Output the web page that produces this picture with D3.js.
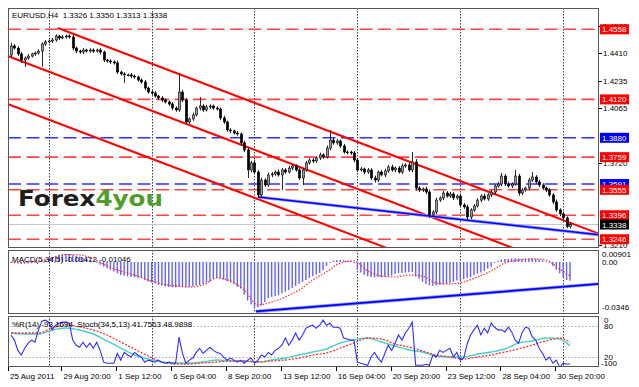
<!DOCTYPE html>
<html><head><meta charset="utf-8">
<script src="https://cdn.jsdelivr.net/npm/d3@7"></script>
<style>
body{margin:0;background:#fff}
svg{display:block}
text{font-family:"Liberation Sans",Arial,sans-serif;white-space:pre}
</style>
</head><body>
<svg id="c" width="639" height="387"></svg>
<script>
// ---------------- DATA ----------------
const symbolTitle = "EURUSD,H4";
const lastOHLC = [1.3326, 1.3350, 1.3313, 1.3338];
const firstOpen = 1.4398;
const closes = [
1.4454,1.4441,1.4404,1.4366,1.4379,1.4391,1.4404,1.4410,1.4422,1.4466,
1.4479,1.4485,1.4491,1.4516,1.4504,1.4510,1.4516,1.4510,1.4441,1.4422,
1.4416,1.4429,1.4422,1.4429,1.4422,1.4429,1.4416,1.4366,1.4360,1.4354,
1.4348,1.4291,1.4279,1.4273,1.4273,1.4266,1.4260,1.4241,1.4229,1.4191,
1.4166,1.4160,1.4141,1.4129,1.4116,1.4104,1.4091,1.4066,1.4054,1.4166,
1.4116,1.3979,1.3998,1.4023,1.4066,1.4079,1.4054,1.4073,1.4079,1.4066,
1.4060,1.4004,1.3979,1.3929,1.3923,1.3910,1.3904,1.3848,1.3804,1.3679,
1.3723,1.3666,1.3523,1.3616,1.3585,1.3648,1.3654,1.3666,1.3648,1.3679,
1.3666,1.3691,1.3704,1.3679,1.3629,1.3679,1.3723,1.3741,1.3735,1.3754,
1.3773,1.3760,1.3816,1.3866,1.3848,1.3860,1.3829,1.3791,1.3791,1.3785,
1.3741,1.3679,1.3685,1.3666,1.3679,1.3629,1.3616,1.3666,1.3648,1.3673,
1.3698,1.3679,1.3691,1.3666,1.3704,1.3710,1.3679,1.3729,1.3566,1.3554,
1.3560,1.3541,1.3398,1.3416,1.3491,1.3504,1.3535,1.3516,1.3529,1.3504,
1.3516,1.3460,1.3448,1.3385,1.3429,1.3454,1.3491,1.3516,1.3498,1.3523,
1.3541,1.3579,1.3591,1.3641,1.3591,1.3579,1.3591,1.3641,1.3535,1.3554,
1.3566,1.3616,1.3635,1.3604,1.3585,1.3566,1.3554,1.3523,1.3479,1.3429,
1.3404,1.3379,1.3326,1.3338];
// upper / lower shadow lengths in pips
const upWick = [
20,12,10,14,9,12,8,10,11,10, 12,9,13,10,8,11,9,12,14,10,
9,12,8,11,10,9,13,10,8,12, 10,14,9,11,8,12,10,9,11,13,
9,10,12,8,11,10,9,12,10,119, 14,12,10,15,9,56,11,13,10,9,
12,10,14,9,11,8,12,10,14,16, 13,18,12,15,11,14,12,10,16,13,
12,14,10,12,15,11,13,10,12,9, 14,10,16,63,12,14,10,13,11,9,
12,10,14,9,13,11,15,10,12,14, 11,13,9,12,15,10,14,62,18,12,
10,14,16,12,15,10,13,11,14,12, 10,15,12,14,11,13,10,12,15,11,
13,10,14,19,12,15,11,38,14,12, 10,13,31,12,14,11,10,13,12,15,
11,14,10,12];
const downWick = [
14,10,12,20,43,11,9,12,10,99, 11,9,12,10,13,8,11,10,14,12,
10,13,9,11,12,10,14,12,10,13, 11,12,10,50,9,13,11,10,12,14,
10,12,9,11,13,10,12,14,11,12, 13,15,11,12,10,14,12,9,13,11,
10,14,12,11,13,10,12,15,14,50, 16,12,19,15,13,11,14,12,10,94,
12,10,14,11,13,44,12,10,14,11, 13,12,10,14,11,12,13,10,14,12,
15,12,10,14,11,13,16,12,10,14, 12,11,14,10,13,12,11,14,16,13,
12,14,19,13,12,11,14,10,12,13, 11,14,12,19,13,12,10,14,11,12,
13,12,10,14,12,11,13,10,16,12, 11,14,12,10,13,12,14,11,13,12,
14,12,11,13];

const macdHist = [
-0.0008,-0.0010,-0.0012,-0.0015,-0.0014,-0.0012,-0.0010,-0.0008,-0.0004,0.0005,
0.0015,0.0025,0.0035,0.0046,0.0054,0.0060,0.0062,0.0060,0.0052,0.0045,
0.0040,0.0032,0.0024,0.0015,0.0006,-0.0006,-0.0020,-0.0035,-0.0048,-0.0060,
-0.0072,-0.0085,-0.0098,-0.0104,-0.0108,-0.0113,-0.0116,-0.0118,-0.0120,-0.0135,
-0.0148,-0.0155,-0.0162,-0.0172,-0.0177,-0.0182,-0.0188,-0.0190,-0.0190,-0.0186,
-0.0188,-0.0190,-0.0188,-0.0182,-0.0176,-0.0172,-0.0165,-0.0155,-0.0148,-0.0125,
-0.0120,-0.0122,-0.0132,-0.0145,-0.0155,-0.0168,-0.0185,-0.0200,-0.0245,-0.0290,
-0.0320,-0.0346,-0.0340,-0.0325,-0.0300,-0.0272,-0.0262,-0.0255,-0.0248,-0.0236,
-0.0224,-0.0210,-0.0196,-0.0180,-0.0165,-0.0150,-0.0135,-0.0120,-0.0107,-0.0095,
-0.0083,-0.0062,-0.0030,-0.0008,0.0010,0.0015,0.0016,0.0014,0.0012,0.0008,
-0.0010,-0.0055,-0.0080,-0.0098,-0.0108,-0.0113,-0.0115,-0.0113,-0.0115,-0.0110,
-0.0108,-0.0100,-0.0090,-0.0083,-0.0083,-0.0080,-0.0078,-0.0075,-0.0110,-0.0125,
-0.0150,-0.0165,-0.0175,-0.0178,-0.0175,-0.0172,-0.0170,-0.0165,-0.0158,-0.0150,
-0.0140,-0.0135,-0.0128,-0.0120,-0.0113,-0.0100,-0.0088,-0.0080,-0.0068,-0.0050,
-0.0035,-0.0008,0.0008,0.0018,0.0022,0.0025,0.0027,0.0028,0.0026,0.0024,
0.0025,0.0027,0.0028,0.0024,0.0018,0.0012,0.0005,-0.0005,-0.0030,-0.0058,
-0.0085,-0.0113,-0.0135,-0.01412];

// bars at which the smooth indicator lines are sampled
const sampleBars = [0,4,8,12,16,20,24,28,32,36,40,44,48,52,56,60,64,68,72,76,80,
  84,88,92,96,100,104,108,112,116,120,124,128,132,136,140,144,148,152,156,160,163];
const macdSignal = [-0.0004,0.0000,0.0008,0.0030,0.0056,0.0053,0.0023,-0.0030,-0.0068,-0.0098,
  -0.0135,-0.0165,-0.0180,-0.0188,-0.0173,-0.0120,-0.0143,-0.0211,-0.0323,-0.0301,
  -0.0263,-0.0211,-0.0135,-0.0075,-0.0008,0.0008,-0.0068,-0.0105,-0.0113,-0.0098,
  -0.0105,-0.0158,-0.0165,-0.0150,-0.0113,-0.0068,-0.0008,0.0015,0.0023,0.0015,
  -0.0053,-0.01046];
const stochMain = [66.9,64.9,64.9,72.7,76.6,72.7,64.9,51.3,37.6,24,16.2,10.3,8.4,8.4,10.3,14.2,
  12.3,12.3,10.3,14.2,18.1,24,29.8,35.7,47.4,53.2,57.1,49.3,41.5,33.7,29.8,22,20,20,25.9,
  29.8,35.7,47.4,51.3,57.1,55.2,41.7563];
const stochSignal = [66.9,66.9,66.9,76.6,82.5,78.6,72.7,63,49.3,35.7,22,10.3,6.4,6.4,8.4,10.3,
  12.3,12.3,10.3,12.3,14.2,18.1,24,27.9,37.6,47.4,57.1,55.2,45.4,39.6,31.8,24,20,16.2,20,24,
  29.8,35.7,43.5,51.3,57.1,48.9898];
const wpr = [
-37,-47,-67,-76,-63,-53,-47,-51,-27,-10, -8,-12,-27,-18,-14,-12,-12,-14,-47,-57,
-61,-51,-61,-53,-63,-51,-67,-90,-92,-92, -92,-73,-86,-71,-76,-80,-71,-76,-80,-90,
-86,-88,-90,-86,-90,-92,-90,-92,-92,-41, -73,-92,-86,-82,-71,-63,-73,-67,-61,-67,
-71,-73,-80,-86,-82,-86,-90,-86,-92,-86, -82,-92,-86,-76,-80,-71,-76,-67,-63,-57,
-43,-57,-47,-33,-47,-37,-24,-20,-18,-24, -18,-8,-18,-14,-22,-22,-24,-43,-45,-47,
-47,-90,-92,-94,-96,-80,-71,-82,-90,-73, -57,-67,-53,-37,-47,-33,-24,-12,-96,-96,
-96,-94,-96,-76,-80,-67,-71,-67,-63,-80, -71,-86,-82,-55,-37,-27,-18,-37,-24,-33,
-14,-22,-27,-27,-31,-22,-31,-47,-53,-33, -22,-24,-41,-47,-63,-73,-86,-80,-92,-86,
-100,-92,-94,-93.1694];

const xLabels = ["25 Aug 2011","29 Aug 20:00","1 Sep 12:00","6 Sep 04:00","8 Sep 20:00",
  "13 Sep 12:00","16 Sep 04:00","20 Sep 20:00","23 Sep 12:00","28 Sep 04:00","30 Sep 20:00"];
const xLabelBars = [0,15,31,47,63,79,95,111,127,143,159];
const gridBars = [11,41,71,101,131,161];
// visible price scale labels (the others are hidden behind level boxes)
const priceTicks = [1.4580,1.4410,1.4235,1.4065,1.3720,1.3210];
const levelPrices = [1.4558,1.4120,1.3880,1.3759,1.3591,1.3555,1.3396,1.3246];
const levelKinds  = ["r","r","b","r","b","r","r","r"];
// channel lines: two anchor points [bar, price]
const channelLines = [
  [[13.7,1.4566],[163.9,1.3342]],
  [[-0.9,1.4391],[84.3,1.3697]],
  [[-0.9,1.4091],[84.3,1.3397]]];
const channelStarts = [13.7,-5,-5];
const priceTrend = [[72,1.3510],[165.9,1.3287]];
const macdTrend = [[71.4,-0.0372],[171.4,-0.0165]];
const macdTickVals = [0.00901,0.00,-0.0346];
const macdTickText = ["0.00901","0.00","-0.0346"];
const wprTickText = ["0","80","20","-100"];
const wprTickVals = [100,80,20,0];

// ---------------- DRAW ----------------
const L=8,R=599, mT=8,mB=248, dT=250,dB=314, wT=316,wB=367;
const svg=d3.select('#c');
const x=d3.scaleLinear().domain([0,163]).range([11,570]);
const yP=d3.scaleLinear().domain([1.3210,1.4410]).range([245,53]);
const yM=d3.scaleLinear().domain([-0.0346,0.00901]).range([308,250]);
const yS=d3.scaleLinear().domain([0,100]).range([367.3,316]);
const yW=d3.scaleLinear().domain([-100,0]).range([367.3,316]);

const defs=svg.append('defs');
[['cm',mT,mB],['cd',dT,dB],['cw',wT,wB]].forEach(([id,t,b])=>{
  defs.append('clipPath').attr('id',id).append('rect').attr('x',L).attr('y',t).attr('width',R-L).attr('height',b-t);
});

svg.append('rect').attr('width',639).attr('height',387).attr('fill','#fff');

// vertical grid
gridBars.forEach(g=>{
  [[mT,mB],[dT,dB],[wT,wB]].forEach(([t,b])=>{
    svg.append('line').attr('x1',Math.round(x(g))+.5).attr('x2',Math.round(x(g))+.5)
      .attr('y1',t).attr('y2',b).attr('stroke','#3a3a3a').attr('stroke-dasharray','1.5,1.5');
  });
});

// main panel
const gm=svg.append('g').attr('clip-path','url(#cm)');
gm.append('line').attr('x1',L).attr('x2',R).attr('y1',yP(lastOHLC[3])).attr('y2',yP(lastOHLC[3]))
  .attr('stroke','#c8c8c8').attr('stroke-width',1);
levelPrices.forEach((p,i)=>{
  gm.append('line').attr('x1',L).attr('x2',R).attr('y1',yP(p)).attr('y2',yP(p))
    .attr('stroke',levelKinds[i]==='r'?'#ff4646':'#3030ff').attr('stroke-width',1.6)
    .attr('stroke-dasharray','13,5.5');
});
channelLines.forEach((ln,k)=>{
  const [[b1,p1],[b2,p2]]=ln; const s=(p2-p1)/(b2-b1);
  const s0=channelStarts[k], e=185;
  gm.append('line').attr('x1',x(s0)).attr('y1',yP(p1+s*(s0-b1))).attr('x2',x(e)).attr('y2',yP(p1+s*(e-b1)))
    .attr('stroke','#ff0000').attr('stroke-width',2);
});
{
  const [[b1,p1],[b2,p2]]=priceTrend; const s=(p2-p1)/(b2-b1); const e=185;
  gm.append('line').attr('x1',x(b1)).attr('y1',yP(p1)).attr('x2',x(e)).attr('y2',yP(p1+s*(e-b1)))
    .attr('stroke','#9a9aff').attr('stroke-width',3.2);
  gm.append('line').attr('x1',x(b1)).attr('y1',yP(p1)).attr('x2',x(e)).attr('y2',yP(p1+s*(e-b1)))
    .attr('stroke','#0000ff').attr('stroke-width',1.6);
}
// candles
const candles=closes.map((c,i)=>{
  const o=i===0?firstOpen:closes[i-1];
  return {i,o,c,h:Math.max(o,c)+upWick[i]*0.0001,l:Math.min(o,c)-downWick[i]*0.0001};
});
const cg=gm.append('g');
candles.forEach(d=>{
  const cx=Math.round(x(d.i))+.5;
  cg.append('line').attr('x1',cx).attr('x2',cx).attr('y1',yP(d.h)).attr('y2',yP(d.l)).attr('stroke','#111').attr('stroke-width',0.9);
  const top=yP(Math.max(d.o,d.c)), bot=yP(Math.min(d.o,d.c));
  const bull=d.c>=d.o;
  cg.append('rect').attr('x',cx-1.1).attr('width',2.2).attr('y',top).attr('height',Math.max(bot-top,0.8))
    .attr('fill',bull?'#9c9c9c':'#000').attr('stroke','#000').attr('stroke-width',0.6);
});

// logo
const logo=svg.append('text').attr('x',18).attr('y',206).attr('font-size',21).attr('font-weight','bold')
  .style('font-family','"DejaVu Sans",Verdana,sans-serif').attr('textLength',145).attr('lengthAdjust','spacingAndGlyphs');
logo.append('tspan').attr('fill','#1e1e1e').text('Forex');
logo.append('tspan').attr('fill','#4f9e2c').text('4you');

// MACD panel
const gd=svg.append('g').attr('clip-path','url(#cd)');
macdHist.forEach((v,i)=>{
  gd.append('line').attr('x1',x(i)).attr('x2',x(i)).attr('y1',yM(0)).attr('y2',yM(v))
    .attr('stroke','#6262ff').attr('stroke-width',1.4);
});
gd.append('path').datum(sampleBars.map((b,k)=>[b,macdSignal[k]]))
  .attr('d',d3.line().x(d=>x(d[0])).y(d=>yM(d[1])).curve(d3.curveMonotoneX))
  .attr('fill','none').attr('stroke','#ff2a2a').attr('stroke-width',1.2).attr('stroke-dasharray','1.5,1.5');
{
  const [[b1,v1],[b2,v2]]=macdTrend; const s=(v2-v1)/(b2-b1); const e=185;
  gd.append('line').attr('x1',x(b1)).attr('y1',yM(v1)).attr('x2',x(e)).attr('y2',yM(v1+s*(e-b1)))
    .attr('stroke','#9a9aff').attr('stroke-width',3.4);
  gd.append('line').attr('x1',x(b1)).attr('y1',yM(v1)).attr('x2',x(e)).attr('y2',yM(v1+s*(e-b1)))
    .attr('stroke','#0000ff').attr('stroke-width',1.8);
}

// %R / Stoch panel
const gw=svg.append('g').attr('clip-path','url(#cw)');
[80,20].forEach(v=>{
  gw.append('line').attr('x1',L).attr('x2',R).attr('y1',Math.round(yS(v))+.5).attr('y2',Math.round(yS(v))+.5)
    .attr('stroke','#a8a8a8').attr('stroke-dasharray','1.5,2');
});
gw.append('path').datum(sampleBars.map((b,k)=>[b,stochMain[k]]))
  .attr('d',d3.line().x(d=>x(d[0])).y(d=>yS(d[1])).curve(d3.curveMonotoneX))
  .attr('fill','none').attr('stroke','#4ccfc8').attr('stroke-width',1.4);
gw.append('path').datum(sampleBars.map((b,k)=>[b,stochSignal[k]]))
  .attr('d',d3.line().x(d=>x(d[0])).y(d=>yS(d[1])).curve(d3.curveMonotoneX))
  .attr('fill','none').attr('stroke','#ff3030').attr('stroke-width',1.3).attr('stroke-dasharray','2,1.5');
gw.append('path').datum(wpr.map((v,i)=>[i,v]))
  .attr('d',d3.line().x(d=>x(d[0])).y(d=>yW(d[1])))
  .attr('fill','none').attr('stroke','#2e2eff').attr('stroke-width',1.1);

// panel frames
[[mT,mB],[dT,dB],[wT,wB]].forEach(([t,b])=>{
  svg.append('rect').attr('x',L+.5).attr('y',t+.5).attr('width',R-L-1).attr('height',b-t-1)
    .attr('fill','none').attr('stroke','#555');
});

// titles
const fs=8;
svg.append('text').attr('x',12).attr('y',18).attr('font-size',fs).attr('fill','#000')
  .text(symbolTitle+"  "+lastOHLC.map(v=>v.toFixed(4)).join(" "));
svg.append('text').attr('x',12).attr('y',262).attr('font-size',fs).attr('fill','#000')
  .text("MACD(5,34,5) "+macdHist[macdHist.length-1].toFixed(5)+" "+macdSignal[macdSignal.length-1].toFixed(5));
svg.append('text').attr('x',12).attr('y',327).attr('font-size',fs).attr('fill','#000')
  .text("%R(14) "+wpr[wpr.length-1].toFixed(4)+"  Stoch(34,5,13) "+stochMain[stochMain.length-1].toFixed(4)+" "+stochSignal[stochSignal.length-1].toFixed(4));

// right axis: price ticks
priceTicks.forEach(p=>{
  const yy=yP(p);
  svg.append('line').attr('x1',R).attr('x2',R+3).attr('y1',Math.round(yy)+.5).attr('y2',Math.round(yy)+.5).attr('stroke','#000');
  svg.append('text').attr('x',R+4).attr('y',yy+3).attr('font-size',fs).attr('fill','#000').text(p.toFixed(4));
});
const boxColor={r:'#ff0000',b:'#0000ff'};
function box(p,col){
  const yy=yP(p);
  svg.append('rect').attr('x',R+1).attr('y',yy-5).attr('width',29).attr('height',10).attr('fill',col);
  svg.append('text').attr('x',R+3).attr('y',yy+3).attr('font-size',fs).attr('fill','#fff').text(p.toFixed(4));
}
levelPrices.forEach((p,i)=>box(p,boxColor[levelKinds[i]]));
box(lastOHLC[3],'#000');

// MACD axis
macdTickVals.forEach((v,k)=>{
  const yy=k===0?yM(v)+7:yM(v)+2;
  svg.append('text').attr('x',R+3).attr('y',yy+(k===1?1.5:0)).attr('font-size',fs).attr('fill','#000').text(macdTickText[k]);
});
// WPR/Stoch axis
wprTickVals.forEach((v,k)=>{
  let yy=yS(v);
  const off=[7,3,3,-1][k];
  svg.append('text').attr('x',k===3?R+2:R+5).attr('y',yy+off).attr('font-size',fs).attr('fill','#000').text(wprTickText[k]);
});

// x axis labels
xLabelBars.forEach((b,k)=>{
  const tx=k===0?L:x(b)-1;
  svg.append('line').attr('x1',Math.round(tx)+.5).attr('x2',Math.round(tx)+.5).attr('y1',wB).attr('y2',wB+4).attr('stroke','#000');
  svg.append('text').attr('x',tx+2).attr('y',379).attr('font-size',fs).attr('fill','#000').text(xLabels[k]);
});
</script>
</body></html>
